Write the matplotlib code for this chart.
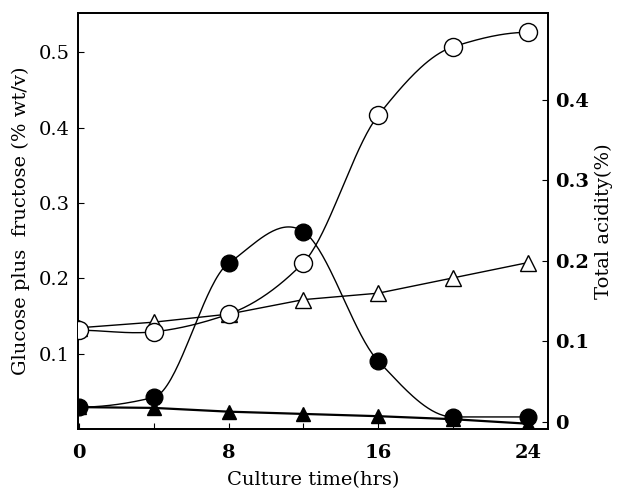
"""
Culture time course: sugar (left axis) and total acidity (right axis).
Saves: out.png
"""

import matplotlib
matplotlib.use("Agg")
import matplotlib.pyplot as plt
import numpy as np

# -----------------------------------------------------------------------
# Data
# -----------------------------------------------------------------------
hours = [0, 4, 8, 12, 16, 20, 24]

sugar_filled_circle   = [0.029, 0.042, 0.220, 0.262, 0.090, 0.016, 0.016]
sugar_filled_triangle = [0.029, 0.028, 0.023, 0.020, 0.017, 0.013, 0.007]

acid_open_circle   = [0.114, 0.112, 0.134, 0.198, 0.381, 0.466, 0.484]
acid_open_triangle = [0.117, 0.124, 0.134, 0.152, 0.160, 0.179, 0.198]

left_ticks  = [0.1, 0.2, 0.3, 0.4, 0.5]
right_ticks = [0, 0.1, 0.2, 0.3, 0.4]
x_label_ticks = [0, 8, 16, 24]


def smooth(x, y, n=40):
    """Hermite curve through the points (only for drawing the line).
    Harmonic-mean tangents on monotone stretches, central difference at a
    turning point, flat at the ends."""
    x = np.asarray(x, float)
    y = np.asarray(y, float)
    sec = np.diff(y) / np.diff(x)
    m = np.zeros_like(y)
    for i in range(1, len(y) - 1):
        a, b = sec[i - 1], sec[i]
        if abs(a) < 1e-9 or abs(b) < 1e-9:
            m[i] = 0.0
        elif a * b > 0:
            m[i] = 2 * a * b / (a + b)
        else:
            m[i] = (y[i + 1] - y[i - 1]) / (x[i + 1] - x[i - 1])
    t = np.linspace(0, 1, n)
    h00 = 2 * t**3 - 3 * t**2 + 1
    h10 = t**3 - 2 * t**2 + t
    h01 = -2 * t**3 + 3 * t**2
    h11 = t**3 - t**2
    xs, ys = [], []
    for i in range(len(x) - 1):
        h = x[i + 1] - x[i]
        xs.append(x[i] + h * t)
        ys.append(h00 * y[i] + h10 * h * m[i] + h01 * y[i + 1] + h11 * h * m[i + 1])
    return np.concatenate(xs), np.concatenate(ys)


plt.rcParams["font.family"] = "DejaVu Serif"

fig = plt.figure(figsize=(6.21, 4.90), dpi=100)
fig.subplots_adjust(left=78 / 621, right=548 / 621,
                    bottom=1 - 429 / 490, top=1 - 13 / 490)
ax = fig.add_subplot(111)
ax2 = ax.twinx()

lw = 1.0
ms = 12

# filled circles (smooth curve)
sx, sy = smooth(hours, sugar_filled_circle)
ax.plot(sx, sy, "-", color="black", lw=lw)
ax.plot(hours, sugar_filled_circle, "o", color="black", ms=ms, zorder=5)

# filled triangles
ax.plot(hours, sugar_filled_triangle, "-^", color="black", lw=1.6,
        ms=10, zorder=5)

# open circles (smooth curve)
sx, sy = smooth(hours, acid_open_circle)
ax2.plot(sx, sy, "-", color="black", lw=lw)
ax2.plot(hours, acid_open_circle, "o", mfc="white", mec="black", mew=1.0,
         ms=ms + 1, zorder=5)

# open triangles
ax2.plot(hours, acid_open_triangle, "-^", color="black", mfc="white",
         mec="black", mew=1.0, lw=lw, ms=12, zorder=4)

# -----------------------------------------------------------------------
# Axes
# -----------------------------------------------------------------------
ax.set_xlim(-0.05, 25.07)
ax.set_ylim(0, 0.552)
ax2.set_ylim(-0.0087, 0.508)

ax.set_xticks(range(0, 25, 4))
ax.set_xticklabels([str(h) if h in x_label_ticks else "" for h in range(0, 25, 4)],
                   fontweight="bold", fontsize=14)
ax.set_yticks(left_ticks)
ax.set_yticklabels([f"{v:.1f}" for v in left_ticks], fontsize=14)
ax2.set_yticks(right_ticks)
ax2.set_yticklabels(["0"] + [f"{v:.1f}" for v in right_ticks[1:]],
                    fontweight="bold", fontsize=14)

ax.tick_params(axis="x", direction="in", length=4, width=0.8, pad=11)
ax.tick_params(axis="y", direction="in", length=4, width=0.8, pad=6)
ax2.tick_params(axis="y", direction="in", length=4, width=0.8, pad=5)

for a in (ax, ax2):
    for s in a.spines.values():
        s.set_linewidth(1.3)

ax.set_ylabel("Glucose plus  fructose (% wt/v)", fontsize=14, labelpad=6)
ax2.set_ylabel("Total acidity(%)", fontsize=14, labelpad=4)
ax.set_xlabel("Culture time(hrs)", fontsize=14, labelpad=6)

plt.savefig("out.png", dpi=100)
plt.close()
